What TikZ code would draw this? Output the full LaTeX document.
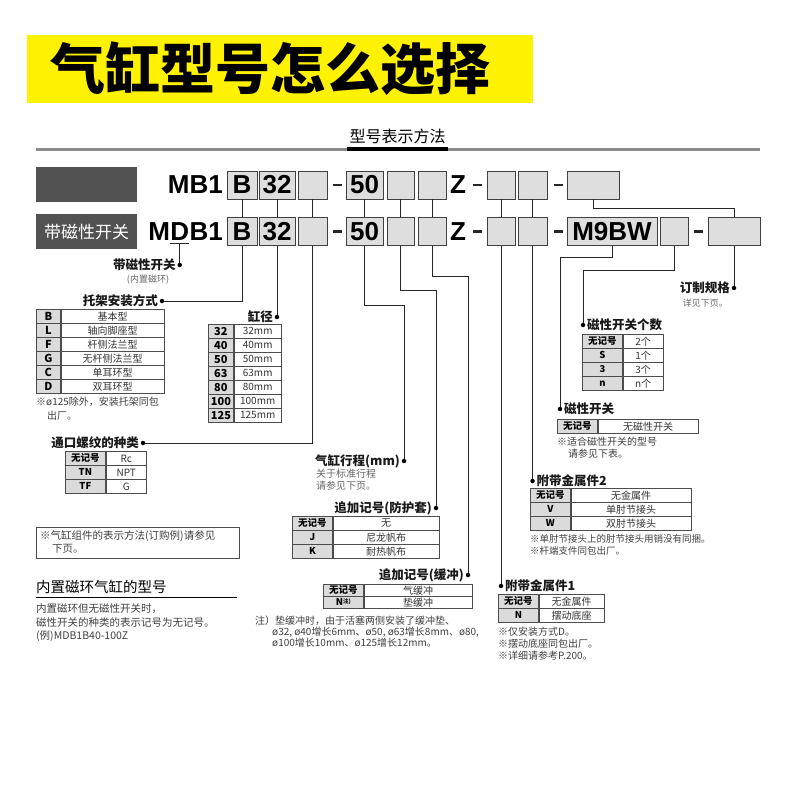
\documentclass[tikz,border=0pt]{standalone}
\usepackage{fontspec}
\setmainfont{Noto Sans CJK SC}
\newfontfamily\modelfont{Liberation Sans}
\usetikzlibrary{positioning}

\begin{document}
\begin{tikzpicture}[x=1pt,y=-1pt,
  box/.style={draw=black!75,fill=black!13,line width=0.9pt,minimum height=28pt,inner sep=0pt,font={\modelfont\fontsize{26}{26}\selectfont\bfseries}},
  model/.style={inner sep=0pt,font={\modelfont\fontsize{26}{26}\selectfont\bfseries}},
  hyph/.style={fill=black!85,minimum width=9pt,minimum height=2.4pt,inner sep=0pt},
  pin/.style={circle,fill=black,minimum size=4.5pt,inner sep=0pt},
  lbl/.style={inner sep=1.5pt,text=black!90,font={\fontsize{12.5}{14}\selectfont\bfseries}},
  sub/.style={inner sep=0pt,text=black!60,font={\fontsize{9}{11}\selectfont}},
  note/.style={inner sep=0pt,anchor=west,text=black!75,font={\fontsize{10}{11}\selectfont}},
  keycell/.style={draw=black!70,fill=black!14,line width=0.8pt,minimum height=14pt,inner sep=0pt,anchor=north west,font={\fontsize{9.5}{10}\selectfont\bfseries}},
  valcell/.style={draw=black!70,fill=white,line width=0.8pt,minimum height=14pt,inner sep=0pt,anchor=north west,text=black!80,font={\fontsize{10}{10}\selectfont}},
  lead/.style={line width=0.8pt,black!85}]
  \fill[white] (0,0) rectangle (800,800);
  \useasboundingbox (0,0) rectangle (800,800);
  % ---------- banner
  \fill[yellow] (27,35) rectangle (533,103);
  \node[font={\fontsize{55}{55}\selectfont\bfseries}] (banner) at (270,69) {气缸型号怎么选择};
  % ---------- heading
  \draw[black!45,line width=3pt] (36,149) -- (760,149);
  \draw[black,line width=3.5pt] (347,149) -- (448,149);
  \node[font={\fontsize{16}{16}\selectfont}] (ttl) at (397.5,136) {型号表示方法};
  \node[fill=black!68,minimum width=101pt,minimum height=35pt,anchor=north west] (plain) at (36,167) {};
  \node[fill=black!68,minimum width=101pt,minimum height=35pt,anchor=north west,text=white,font={\fontsize{17}{17}\selectfont}] (withsw) at (36,214) {带磁性开关};
  % ---------- model rows
  \node[model,anchor=east] (mb1) at (223,185) {MB1};
  \node[model,anchor=east] (mdbb) at (223,231.5) {B1};
  \node[model,anchor=east] (mdbd) at (mdbb.west) {D};
  \node[model,anchor=east] (mdbm) at (mdbd.west) {M};
  \draw[lead,line width=1.2pt] ([yshift=-2.5pt]mdbd.south west) -- ([yshift=-2.5pt]mdbd.south east);
  \foreach \n/\x/\w/\t in {b/242/30/B,d/277/36/32,p/312.5/29/,s/364.5/37/50,j/400.5/27/,n/432/28/,v/501/28/,m/532.5/29/} {
    \node[box,minimum width=\w] (r1\n) at (\x,185) {\t};
    \node[box,minimum width=\w] (r2\n) at (\x,231.5) {\t};
    \draw[lead] (r1\n) -- (r2\n);
  }
  \node[box,minimum width=52] (r1x) at (593,185) {};
  \node[box,minimum width=90] (r2w) at (612,231.5) {M9BW};
  \node[box,minimum width=28] (r2c) at (674,231.5) {};
  \node[box,minimum width=52] (r2x) at (734,231.5) {};
  \draw[lead] (r1x.south) -- ++(0,9) -| (r2x.north);
  \foreach \r/\y in {1/185,2/231.5} {
    \node[hyph] (hya\r) at (337.5,\y) {};
    \node[model] (zz\r) at (458,\y) {Z};
    \node[hyph] (hyb\r) at (477,\y) {};
    \node[hyph] (hyc\r) at (558,\y) {};
  }
  \node[hyph] (hyd2) at (698,231.5) {};
  % ---------- with switch
  \node[pin] (psw) at (mdbd.south |- 0,265) {};
  \draw[lead] ([yshift=-2.5pt]mdbd.south) -- (psw);
  \node[lbl,anchor=east] (lsw) at (psw.west) {带磁性开关};
  \node[sub] (lswsub) at (148,280) {(内置磁环)};
  % ---------- mounting
  \node[pin] (pmt) at (162,301) {};
  \draw[lead] (r2b.south) |- (pmt);
  \node[lbl,anchor=east] (lmt) at (pmt.west) {托架安装方式};
  \foreach \k/\v [count=\i] in {B/基本型,L/轴向脚座型,F/杆侧法兰型,G/无杆侧法兰型,C/单耳环型,D/双耳环型} {
    \node[keycell,minimum width=24,font={\fontsize{11}{11}\selectfont\bfseries}] (mk\i) at (36,{295+14*\i}) {\k};
    \node[valcell,minimum width=103] (mv\i) at (mk\i.north east) {\v};
  }
  \node[note] (nmt1) at (36,402) {※ø125除外，安装托架同包};
  \node[note] (nmt2) at (47,416) {出厂。};
  % ---------- bore
  \node[pin] (pbore) at (r2d.south |- 0,317) {};
  \draw[lead] (r2d.south) -- (pbore);
  \node[lbl,anchor=east] (lbore) at (pbore.west) {缸径};
  \foreach \k [count=\i] in {32,40,50,63,80,100,125} {
    \node[keycell,minimum width=25,font={\fontsize{11}{11}\selectfont\bfseries}] (bk\i) at (208,{310+14*\i}) {\k};
    \node[valcell,minimum width=47] (bv\i) at (bk\i.north east) {\k mm};
  }
  % ---------- port thread
  \node[pin] (pport) at (143,443) {};
  \draw[lead] (r2p.south) |- (pport);
  \node[lbl,anchor=east] (lport) at (pport.west) {通口螺纹的种类};
  \foreach \k/\v [count=\i] in {无记号/Rc,TN/NPT,TF/G}
    \node[keycell,minimum width=40] (pk\i) at (65,{437+14*\i}) {\k}
      node[valcell,minimum width=40] (pv\i) at (pk\i.north east) {\v};
  \node[draw=black!70,line width=0.8pt,minimum width=203,minimum height=31,anchor=north west] (nbox) at (36,527) {};
  \node[note,font={\fontsize{10.5}{11}\selectfont}] (nbox1) at (40,536) {※气缸组件的表示方法(订购例)请参见};
  \node[note,font={\fontsize{10.5}{11}\selectfont}] (nbox2) at (52,549) {下页。};
  % ---------- built-in magnet
  \node[anchor=west,inner sep=0pt,font={\fontsize{14.5}{15}\selectfont}] (hmag) at (36,587) {内置磁环气缸的型号};
  \draw[line width=0.8pt] (36,597) -- (237,597);
  \node[note,font={\fontsize{10.5}{11}\selectfont}] (bmag1) at (36,609) {内置磁环但无磁性开关时，};
  \node[note,font={\fontsize{10.5}{11}\selectfont}] (bmag2) at (36,623) {磁性开关的种类的表示记号为无记号。};
  \node[note,font={\fontsize{10.5}{11}\selectfont}] (bmag3) at (36,636) {(例)MDB1B40-100Z};
  % ---------- stroke
  \node[pin] (pstroke) at (404,461) {};
  \draw[lead] (r2s.south) -- ++(0,59) -| (pstroke);
  \node[lbl,anchor=east] (lstroke) at (pstroke.west) {气缸行程(mm)};
  \node[sub,anchor=west,font={\fontsize{10}{11}\selectfont}] (lstroke1) at (316,474) {关于标准行程};
  \node[sub,anchor=west,font={\fontsize{10}{11}\selectfont}] (lstroke2) at (316,486) {请参见下页。};
  % ---------- bellows
  \node[pin] (pboot) at (436,508) {};
  \draw[lead] (r2j.south) -- ++(0,44) -| (pboot);
  \node[lbl,anchor=east] (lboot) at (pboot.west) {追加记号(防护套)};
  \foreach \k/\v [count=\i] in {无记号/无,J/尼龙帆布,K/耐热帆布}
    \node[keycell,minimum width=40] (jk\i) at (292,{502+14*\i}) {\k}
      node[valcell,minimum width=106] (jv\i) at (jk\i.north east) {\v};
  % ---------- cushion
  \node[pin] (pcush) at (468,575) {};
  \draw[lead] (r2n.south) -- ++(0,30) -| (pcush);
  \node[lbl,anchor=east] (lcush) at (pcush.west) {追加记号(缓冲)};
  \foreach \k/\v [count=\i] in {无记号/气缓冲,{N\raisebox{2pt}{\fontsize{5.5}{6}\selectfont 注)}}/垫缓冲}
    \node[keycell,minimum width=40,minimum height=12] (ck\i) at (323,{572+12*\i}) {\k}
      node[valcell,minimum width=108,minimum height=12] (cv\i) at (ck\i.north east) {\v};
  \node[note] (ncush1) at (255,621) {注）垫缓冲时，由于活塞两侧安装了缓冲垫、};
  \node[note] (ncush2) at (272,632) {ø32, ø40增长6mm、ø50, ø63增长8mm、ø80,};
  \node[note] (ncush3) at (272,643) {ø100增长10mm、ø125增长12mm。};
  % ---------- accessory 1
  \node[pin] (pacc1) at (r2v.south |- 0,586) {};
  \draw[lead] (r2v.south) -- (pacc1);
  \node[lbl,anchor=west] (lacc1) at (pacc1.east) {附带金属件1};
  \foreach \k/\v [count=\i] in {无记号/无金属件,N/摆动底座}
    \node[keycell,minimum width=40] (ak\i) at (498,{580+14*\i}) {\k}
      node[valcell,minimum width=65] (av\i) at (ak\i.north east) {\v};
  \node[note] (nacc1) at (498,632) {※仅安装方式D。};
  \node[note] (nacc2) at (498,644) {※摆动底座同包出厂。};
  \node[note] (nacc3) at (498,656) {※详细请参考P.200。};
  % ---------- accessory 2
  \node[pin] (pacc2) at (r2m.south |- 0,481) {};
  \draw[lead] (r2m.south) -- (pacc2);
  \node[lbl,anchor=west] (lacc2) at (pacc2.east) {附带金属件2};
  \foreach \k/\v [count=\i] in {无记号/无金属件,V/单肘节接头,W/双肘节接头}
    \node[keycell,minimum width=40] (ek\i) at (530,{474+14*\i}) {\k}
      node[valcell,minimum width=120] (ev\i) at (ek\i.north east) {\v};
  \node[note,font={\fontsize{9.5}{11}\selectfont}] (nacc4) at (530,539) {※单肘节接头上的肘节接头用销没有同捆。};
  \node[note,font={\fontsize{9.5}{11}\selectfont}] (nacc5) at (530,551) {※杆端支件同包出厂。};
  % ---------- auto switch
  \node[pin] (pswt) at (560,409) {};
  \draw[lead] (r2w.south) -- ++(0,11) -| (pswt);
  \node[lbl,anchor=west] (lswt) at (pswt.east) {磁性开关};
  \node[keycell,minimum width=40] (swk) at (557,419) {无记号};
  \node[valcell,minimum width=100] (swv) at (swk.north east) {无磁性开关};
  \node[note] (nswt1) at (557,442) {※适合磁性开关的型号};
  \node[note] (nswt2) at (568,454) {请参见下表。};
  % ---------- number of switches
  \node[pin] (pnum) at (583,325) {};
  \draw[lead] (r2c.south) -- ++(0,24) -| (pnum);
  \node[lbl,anchor=west] (lnum) at (pnum.east) {磁性开关个数};
  \foreach \k/\v [count=\i] in {无记号/2个,S/1个,3/3个,n/n个}
    \node[keycell,minimum width=40] (nk\i) at (582,{320+14*\i}) {\k}
      node[valcell,minimum width=40] (nv\i) at (nk\i.north east) {\v};
  % ---------- made to order
  \node[pin] (pcust) at (r2x.south |- 0,288) {};
  \draw[lead] (r2x.south) -- (pcust);
  \node[lbl,anchor=east] (lcust) at (pcust.west) {订制规格};
  \node[sub,anchor=east] (lcust1) at (728,303) {详见下页。};
\end{tikzpicture}
\end{document}
